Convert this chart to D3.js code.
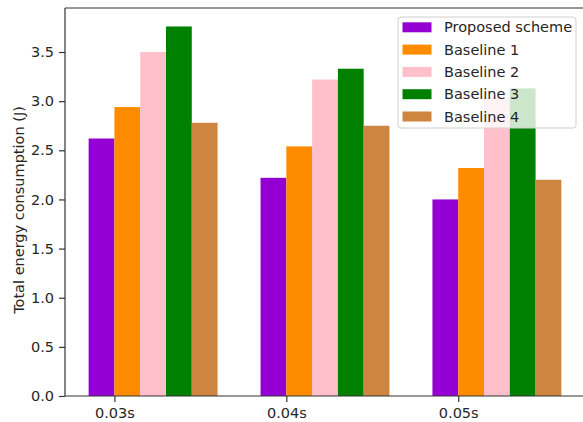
<!DOCTYPE html>
<html>
<head>
<meta charset="utf-8">
<script src="https://cdn.jsdelivr.net/npm/d3@7"></script>
<style>
  html, body { margin: 0; padding: 0; background: #fff; overflow: hidden; }
  svg { display: block; overflow: hidden; }
  text { font-family: "DejaVu Sans", sans-serif; fill: #262626; }
</style>
</head>
<body>
<svg id="chart" width="583" height="422"></svg>
<script>
const categories = ["0.03s", "0.04s", "0.05s"];
const seriesNames = ["Proposed scheme", "Baseline 1", "Baseline 2", "Baseline 3", "Baseline 4"];
const seriesColors = ["#9400D3", "#FF8C00", "#FFC0CB", "#008000", "#CD853F"];
const proposed = [2.62, 2.22, 2.00];
const baseline1 = [2.94, 2.54, 2.32];
const baseline2 = [3.50, 3.22, 3.04];
const baseline3 = [3.76, 3.33, 3.13];
const baseline4 = [2.78, 2.75, 2.20];
const yTicks = [0, 0.5, 1.0, 1.5, 2.0, 2.5, 3.0, 3.5];
const yLabel = "Total energy consumption (J)";

const series = [proposed, baseline1, baseline2, baseline3, baseline4];
const barW = 0.15;
const FS = 14.5;

const svg = d3.select("#chart");
const M = { left: 65, right: 585, top: 8, bottom: 396 };

const yMax = d3.max(series.flat()) * 1.05;
const y = d3.scaleLinear().domain([0, yMax]).range([M.bottom, M.top]);

const xMin = -barW, xMaxData = categories.length - 1 + 4 * barW;
const pad = (xMaxData - xMin) * 0.05;
const x = d3.scaleLinear().domain([xMin - pad, xMaxData + pad]).range([M.left, M.right]);

// bars
const bars = [];
series.forEach((vals, j) => vals.forEach((v, i) => bars.push({ i, j, v })));
svg.append("g").selectAll("rect").data(bars).join("rect")
  .attr("x", d => x(d.i + (d.j - 1) * barW))
  .attr("width", d => x(d.i + d.j * barW) - x(d.i + (d.j - 1) * barW))
  .attr("y", d => y(d.v))
  .attr("height", d => y(0) - y(d.v))
  .attr("fill", d => seriesColors[d.j]);

// axes
const yAxis = d3.axisLeft(y).tickValues(yTicks).tickFormat(d3.format(".1f")).tickSize(6).tickPadding(5);
const gy = svg.append("g").attr("transform", `translate(${M.left},0)`).call(yAxis);
const xAxis = d3.axisBottom(x).tickValues(categories.map((c, i) => i)).tickFormat(i => categories[i]).tickSize(6).tickPadding(6);
const gx = svg.append("g").attr("transform", `translate(0,${M.bottom})`).call(xAxis);
[gx, gy].forEach(g => {
  g.select(".domain").remove();
  g.selectAll(".tick line").attr("stroke", "#333").attr("stroke-width", 1.2);
  g.selectAll(".tick text").attr("font-size", FS).style("font-family", "DejaVu Sans, sans-serif").attr("fill", "#262626");
});

// spines (right spine falls outside the visible frame)
const sp = svg.append("g").attr("stroke", "#333").attr("stroke-width", 1.2).attr("fill", "none");
sp.append("line").attr("x1", M.left).attr("x2", M.left).attr("y1", M.top).attr("y2", M.bottom);
sp.append("line").attr("x1", M.left).attr("x2", 583).attr("y1", M.bottom).attr("y2", M.bottom);
sp.append("line").attr("x1", M.left).attr("x2", 583).attr("y1", M.top).attr("y2", M.top);

// y label
svg.append("text")
  .attr("transform", `translate(19,${(M.top + M.bottom) / 2 + 8}) rotate(-90)`)
  .attr("text-anchor", "middle").attr("dominant-baseline", "central")
  .attr("font-size", FS).text(yLabel);

// legend
const lg = svg.append("g").attr("transform", "translate(398,17)");
lg.append("rect").attr("x", 0).attr("y", 0).attr("width", 178).attr("height", 111)
  .attr("rx", 3).attr("fill", "rgba(255,255,255,0.8)").attr("stroke", "#d0d0d0").attr("stroke-width", 1);
const items = lg.selectAll("g.item").data(seriesNames).join("g").attr("class", "item")
  .attr("transform", (d, k) => `translate(0,${5.3 + k * 22.3})`);
items.append("rect").attr("x", 4.5).attr("y", 0).attr("width", 29).attr("height", 10)
  .attr("fill", (d, k) => seriesColors[k]);
items.append("text").attr("x", 46).attr("y", 5).attr("dominant-baseline", "central")
  .attr("font-size", FS).text(d => d);
</script>
</body>
</html>
